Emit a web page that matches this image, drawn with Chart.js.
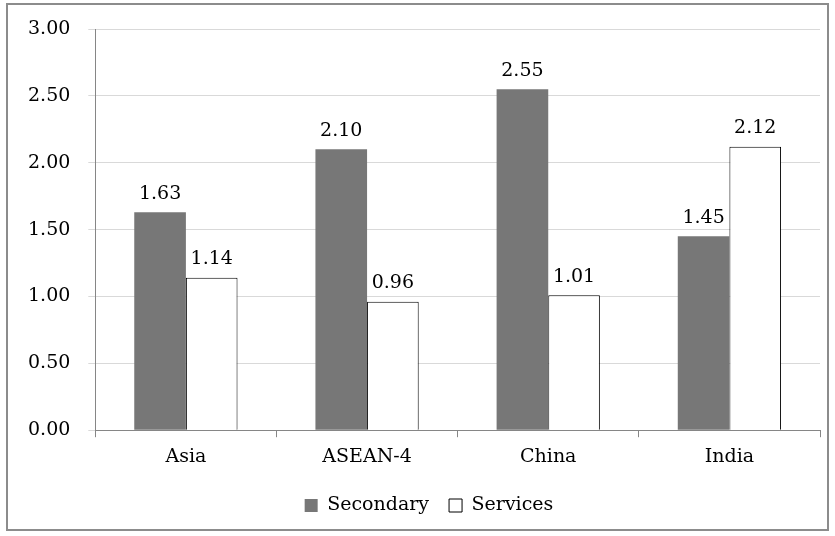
<!DOCTYPE html>
<html>
<head>
<meta charset="utf-8">
<script src="https://cdn.jsdelivr.net/npm/chart.js@4/dist/chart.umd.min.js"></script>
<style>
  html, body { margin: 0; padding: 0; background: #ffffff; }
  #frame {
    position: absolute; left: 6px; top: 3px;
    width: 819px; height: 524px;
    border: 2px solid #8c8c8c; background: #ffffff;
  }
  canvas { display: block; }
</style>
</head>
<body>
<div id="frame"><canvas id="chart" width="819" height="524"></canvas></div>
<script>
// Regions and the two sector series
const categories = ['Asia', 'ASEAN-4', 'China', 'India'];
const secondary = [1.63, 2.10, 2.55, 1.45];
const services = [1.14, 0.96, 1.01, 2.12];
const yTicks = [0, 0.5, 1, 1.5, 2, 2.5, 3];

const FONT = "'DejaVu Serif', 'Liberation Serif', serif";

// Writes each bar's value just above it
const valueLabels = {
  id: 'valueLabels',
  afterDatasetsDraw(chart) {
    const ctx = chart.ctx;
    ctx.save();
    ctx.font = '19px ' + FONT;
    ctx.fillStyle = '#000000';
    ctx.textAlign = 'center';
    ctx.textBaseline = 'bottom';
    chart.data.datasets.forEach((ds, i) => {
      chart.getDatasetMeta(i).data.forEach((bar, j) => {
        ctx.fillText(ds.data[j].toFixed(2), bar.x, bar.y - 9);
      });
    });
    ctx.restore();
  }
};

// Centres the legend a little right of the canvas middle
const legendShift = {
  id: 'legendShift',
  afterLayout(chart) {
    if (chart.legend) chart.legend.left += 28;
  }
};

new Chart(document.getElementById('chart'), {
  type: 'bar',
  data: {
    labels: categories,
    datasets: [
      { label: 'Secondary', data: secondary, backgroundColor: '#777777', borderWidth: 0 },
      { label: 'Services', data: services, backgroundColor: '#ffffff', borderColor: '#000000', borderWidth: 1 }
    ]
  },
  options: {
    responsive: false,
    animation: false,
    layout: { padding: { top: 24, right: 7, left: 2, bottom: 4 } },
    datasets: { bar: { barPercentage: 1, categoryPercentage: 0.57 } },
    plugins: {
      legend: {
        position: 'bottom',
        labels: {
          font: { family: FONT, size: 19 },
          color: '#000000',
          boxWidth: 13, boxHeight: 13,
          padding: 20
        }
      },
      tooltip: { enabled: false }
    },
    scales: {
      x: {
        grid: { display: true, drawOnChartArea: false, offset: true, tickLength: 7, color: '#868686' },
        border: { color: '#868686' },
        ticks: { font: { family: FONT, size: 19 }, color: '#000000', padding: 8 }
      },
      y: {
        min: 0, max: 3,
        afterBuildTicks(axis) { axis.ticks = yTicks.map(v => ({ value: v })); },
        // top margin comes from the layout padding alone
        afterFit(scale) { scale.paddingTop = 0; },
        grid: { color: '#d9d9d9', tickLength: 7 },
        border: { color: '#868686' },
        ticks: {
          font: { family: FONT, size: 19 }, color: '#000000', padding: 18,
          callback: v => Number(v).toFixed(2)
        }
      }
    }
  },
  plugins: [valueLabels, legendShift]
});
</script>
</body>
</html>
